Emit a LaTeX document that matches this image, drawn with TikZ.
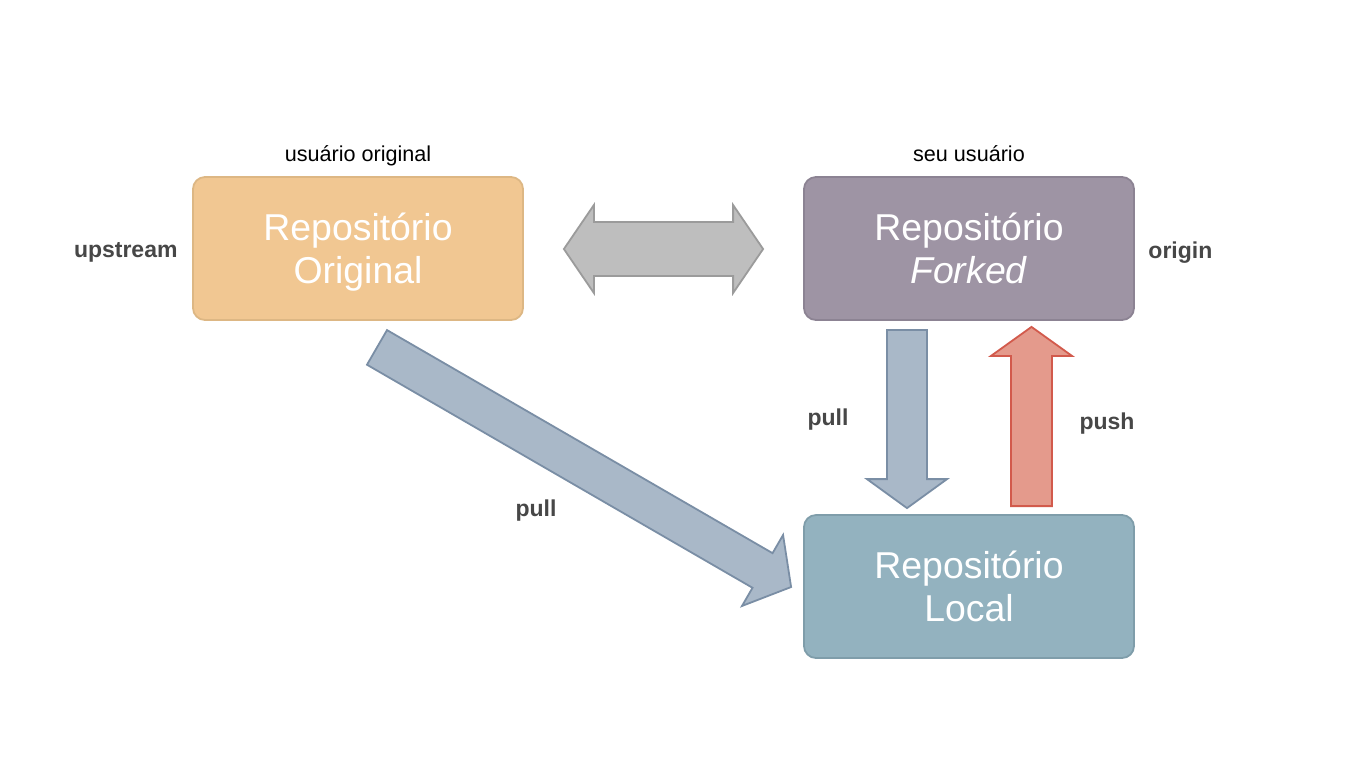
\documentclass[tikz,border=0pt]{standalone}
\usepackage{fontspec}
\setmainfont{Liberation Sans}
\usepackage{xcolor}
\usepackage{tikz}
\usetikzlibrary{calc, positioning}

\definecolor{origfill}{HTML}{F1C792}
\definecolor{origline}{HTML}{DDB784}
\definecolor{forkfill}{HTML}{9E94A4}
\definecolor{forkline}{HTML}{8C8393}
\definecolor{localfill}{HTML}{93B2BF}
\definecolor{localline}{HTML}{7F9DAA}
\definecolor{syncfill}{HTML}{BEBEBE}
\definecolor{syncline}{HTML}{9B9B9B}
\definecolor{pullfill}{HTML}{A9B8C8}
\definecolor{pullline}{HTML}{7A8EA5}
\definecolor{pushfill}{HTML}{E49A8C}
\definecolor{pushline}{HTML}{D25A4C}
\definecolor{taggray}{HTML}{474747}

% seta larga: #1 estilo, #2 cauda, #3 ponta, #4 meia haste, #5 meia cabeca, #6 comprimento da cabeca
\newcommand{\blockarrow}[6]{%
  \coordinate (ba-h) at ($(#3)!#6!(#2)$);
  \draw[#1] ($(#2)!#4!90:(#3)$) -- ($(ba-h)!#4!-90:(#2)$) -- ($(ba-h)!#5!-90:(#2)$)
    -- (#3) -- ($(ba-h)!#5!90:(#2)$) -- ($(ba-h)!#4!90:(#2)$)
    -- ($(#2)!#4!-90:(#3)$) -- cycle;}

% seta larga com duas pontas: #1 estilo, #2 ponta A, #3 ponta B, #4 meia haste, #5 meia cabeca, #6 comprimento da cabeca
\newcommand{\doublearrow}[6]{%
  \coordinate (da-a) at ($(#2)!#6!(#3)$);
  \coordinate (da-b) at ($(#3)!#6!(#2)$);
  \draw[#1] (#2) -- ($(da-a)!#5!90:(#3)$) -- ($(da-a)!#4!90:(#3)$)
    -- ($(da-b)!#4!-90:(#2)$) -- ($(da-b)!#5!-90:(#2)$) -- (#3)
    -- ($(da-b)!#5!90:(#2)$) -- ($(da-b)!#4!90:(#2)$)
    -- ($(da-a)!#4!-90:(#3)$) -- ($(da-a)!#5!-90:(#3)$) -- cycle;}

\begin{document}
\begin{tikzpicture}[x=0.5pt, y=-0.5pt, line join=miter,
    repo/.style={rectangle, rounded corners=6pt, line width=0.9pt,
      minimum width=165pt, minimum height=71.5pt, align=center, text depth=0pt,
      text=white, font=\fontsize{18.7}{21.5}\selectfont},
    tag/.style={text=taggray, font=\fontsize{11.5}{14}\selectfont\bfseries},
    who/.style={text=black, text depth=0pt, font=\fontsize{10.8}{13}\selectfont},
    syncarrow/.style={fill=syncfill, draw=syncline, line width=0.9pt},
    pullarrow/.style={fill=pullfill, draw=pullline, line width=0.9pt},
    pusharrow/.style={fill=pushfill, draw=pushline, line width=0.9pt}]

    % fundo e margens
    \fill[white] (0,0) rectangle (1366,768);

    % repositorios
    \node[repo, fill=origfill, draw=origline] (orig) at (358,248.5) {Repositório\\Original};
    \node[repo, fill=forkfill, draw=forkline] (fork) at (969,248.5) {Repositório\\\textit{Forked}};
    \node[repo, fill=localfill, draw=localline] (local) at (969,586.5) {Repositório\\Local};

    % usuarios e remotos
    \node[who, above=4pt of orig] (origuser) {usuário original};
    \node[who, above=4pt of fork] (forkuser) {seu usuário};
    \node[tag, anchor=base east] (upstream) at ($(orig.west)+(-7.5,9)$) {upstream};
    \node[tag, anchor=base west] (origin) at ($(fork.east)+(6.5,9.5)$) {origin};

    % pontas das setas
    \coordinate (sync-a) at ($(orig.east)+(40,0.5)$);
    \coordinate (sync-b) at ($(fork.west)+(-40,0.5)$);
    \coordinate (fp-tail) at ($(fork.south)+(-62,9)$);
    \coordinate (fp-tip) at ($(local.north)+(-62,-6)$);
    \coordinate (push-tail) at ($(local.north)+(62.5,-8)$);
    \coordinate (push-tip) at ($(fork.south)+(62.5,6)$);
    \coordinate (up-tail) at ($(orig.south)+(19,26.5)$);
    \coordinate (up-tip) at ($(local.west)+(-12,0.5)$);

    % setas
    \doublearrow{syncarrow}{sync-a}{sync-b}{13.5pt}{22pt}{15pt}
    \blockarrow{pullarrow}{fp-tail}{fp-tip}{10pt}{20pt}{14.5pt}
    \blockarrow{pusharrow}{push-tail}{push-tip}{10.25pt}{20.25pt}{14.5pt}
    \blockarrow{pullarrow}{up-tail}{up-tip}{10pt}{20.5pt}{16.5pt}

    % rotulos das setas
    \node[tag, anchor=base] (pull-up) at (536,516) {pull};
    \node[tag, anchor=base] (pull-fork) at (828,425) {pull};
    \node[tag, anchor=base] (push) at (1107,429) {push};

\end{tikzpicture}
\end{document}
